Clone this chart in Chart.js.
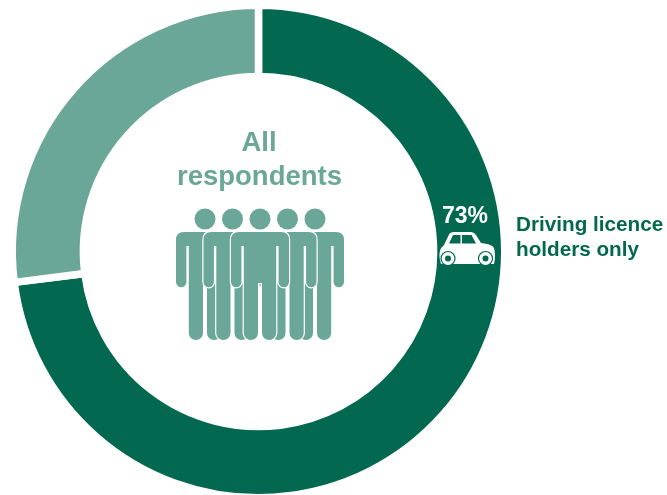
<!DOCTYPE html>
<html><head><meta charset="utf-8">
<style>html,body{margin:0;padding:0;background:#fff}canvas{display:block}#w{width:667px;height:495px;position:relative}</style>
<script src="https://cdn.jsdelivr.net/npm/chart.js@4"></script></head>
<body><div id="w"><canvas id="c" width="667" height="495"></canvas></div>
<script>
const categories = ['Driving licence holders only', 'Other respondents'];
const shares = [73, 27];
const sliceColours = ['#026950', '#6AA798'];
const figureCentres = [205, 315, 232.5, 287.5, 260];

const FONT = '"Liberation Sans", Arial, sans-serif';

// One standing figure, shoulders at y=232 and feet at y=340.
function figurePath(cx) {
  const p = new Path2D();
  const L = x => cx - x, R = x => cx + x;
  const top = 232, armEnd = 287, pit = 246, foot = 340, crotch = 283;
  p.moveTo(L(21), top);
  p.lineTo(R(21), top);
  p.quadraticCurveTo(R(29), top, R(29), top + 8);
  p.lineTo(R(29), armEnd - 5);
  p.arc(R(23.8), armEnd - 5, 5.2, 0, Math.PI);
  p.lineTo(R(18.6), pit);
  p.lineTo(R(16.2), pit);
  p.lineTo(R(16.2), foot - 7);
  p.arc(R(9.1), foot - 7, 7.1, 0, Math.PI);
  p.lineTo(R(2), crotch);
  p.lineTo(L(2), crotch);
  p.lineTo(L(2), foot - 7);
  p.arc(L(9.1), foot - 7, 7.1, 0, Math.PI);
  p.lineTo(L(16.2), pit);
  p.lineTo(L(18.6), pit);
  p.lineTo(L(18.6), armEnd - 5);
  p.arc(L(23.8), armEnd - 5, 5.2, 0, Math.PI);
  p.lineTo(L(29), top + 8);
  p.quadraticCurveTo(L(29), top, L(21), top);
  p.closePath();
  return p;
}

function drawPeople(ctx) {
  ctx.save();
  ctx.fillStyle = sliceColours[1];
  ctx.strokeStyle = '#fff';
  ctx.lineWidth = 2.4;
  ctx.lineJoin = 'round';
  for (const cx of figureCentres) {
    ctx.beginPath();
    ctx.arc(cx, 219, 10.5, 0, Math.PI * 2);
    ctx.fill();
  }
  for (const cx of figureCentres) {
    const p = figurePath(cx);
    ctx.stroke(p);
    ctx.fill(p);
  }
  ctx.restore();
}

function drawCar(ctx) {
  ctx.save();
  ctx.fillStyle = '#fff';
  ctx.beginPath();
  ctx.moveTo(441, 264);
  ctx.quadraticCurveTo(438.5, 256, 440, 251);
  ctx.quadraticCurveTo(441, 247, 444, 245);
  ctx.lineTo(449, 234.5);
  ctx.quadraticCurveTo(450, 232, 454, 232);
  ctx.lineTo(471, 232);
  ctx.quadraticCurveTo(474, 232, 476, 235);
  ctx.lineTo(481, 243);
  ctx.quadraticCurveTo(492, 244, 494, 248);
  ctx.quadraticCurveTo(496, 256, 494, 264);
  ctx.closePath();
  ctx.fill();
  ctx.fillStyle = sliceColours[0];
  ctx.beginPath();
  ctx.moveTo(449, 243.5); ctx.lineTo(453, 235); ctx.lineTo(460.5, 235); ctx.lineTo(460.5, 243.5); ctx.closePath();
  ctx.moveTo(462, 243.5); ctx.lineTo(462, 235); ctx.lineTo(471.5, 235); ctx.lineTo(476, 243.5); ctx.closePath();
  ctx.fill();
  for (const x of [448, 485.5]) {
    ctx.fillStyle = sliceColours[0];
    ctx.beginPath(); ctx.arc(x, 258.5, 7.6, 0, Math.PI * 2); ctx.fill();
    ctx.fillStyle = '#fff';
    ctx.beginPath(); ctx.arc(x, 258.5, 6.4, 0, Math.PI * 2); ctx.fill();
    ctx.fillStyle = sliceColours[0];
    ctx.beginPath(); ctx.arc(x, 258.5, 3, 0, Math.PI * 2); ctx.fill();
  }
  ctx.restore();
}

const annotations = {
  id: 'annotations',
  afterDraw(chart) {
    const ctx = chart.ctx;
    drawPeople(ctx);
    drawCar(ctx);
    ctx.save();
    ctx.textAlign = 'center';
    ctx.textBaseline = 'alphabetic';
    ctx.fillStyle = sliceColours[1];
    ctx.font = 'bold 27.5px ' + FONT;
    ctx.fillText('All', 259, 151);
    ctx.fillText('respondents', 259.5, 185);
    ctx.fillStyle = '#fff';
    ctx.font = 'bold 23px ' + FONT;
    ctx.fillText(shares[0] + '%', 465, 223);
    ctx.textAlign = 'left';
    ctx.fillStyle = sliceColours[0];
    ctx.font = 'bold 20.7px ' + FONT;
    ctx.fillText('Driving licence', 516, 230.5);
    ctx.fillText('holders only', 516, 256);
    ctx.restore();
  }
};

new Chart(document.getElementById('c'), {
  type: 'doughnut',
  data: {
    labels: categories,
    datasets: [{
      data: shares,
      backgroundColor: sliceColours,
      borderColor: '#fff',
      borderWidth: 7.5,
      borderAlign: 'center',
      radius: 246.25
    }]
  },
  plugins: [annotations],
  options: {
    responsive: false,
    animation: false,
    cutout: '71.1%',
    layout: { padding: { left: 16, right: 166, top: 8, bottom: 0 } },
    plugins: { legend: { display: false }, tooltip: { enabled: false } }
  }
});
</script></body></html>
